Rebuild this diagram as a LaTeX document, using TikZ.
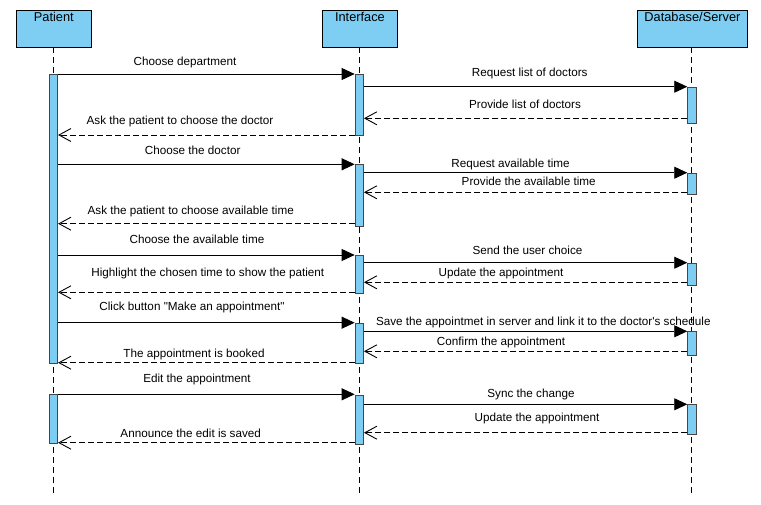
\documentclass[tikz,border=0pt]{standalone}
\usepackage{fontspec}
\setmainfont{Liberation Sans}
\usetikzlibrary{arrows.meta}
\definecolor{lblue}{RGB}{126,206,244}
\definecolor{bargray}{RGB}{70,70,70}
\tikzset{
  actor/.style={draw=black, fill=lblue, line width=0.9pt, minimum width=#1, minimum height=37pt, inner sep=0pt},
  actortext/.style={font=\fontsize{12.8}{15}\selectfont, text=black, inner sep=0pt},
  bar/.style={draw=bargray, fill=lblue, line width=0.9pt, minimum width=8.4pt, inner sep=0pt, anchor=north},
  life/.style={draw=black, line width=0.9pt, dash pattern=on 6pt off 4pt},
  call/.style={draw=black, line width=0.9pt, -{Triangle[length=13pt,width=12pt]}},
  reply/.style={draw=black, line width=0.9pt, dash pattern=on 6pt off 3pt, -{Straight Barb[length=12pt,width=13pt,line width=0.9pt]}},
  lbl/.style={font=\fontsize{11.7}{14}\selectfont, text=black, inner sep=0pt}
}
\begin{document}
\begin{tikzpicture}[x=1pt,y=-1pt]
\useasboundingbox (0,0) rectangle (761,505);
% actors
\node[actor=74.7pt, anchor=north west] (pat) at (16,10) {};
\node[actor=75pt, anchor=north west] (ifc) at (322,10) {};
\node[actor=110.6pt, anchor=north west] (dbs) at (636.7,10) {};
\node[actortext] at (pat.north |- 0,17) {Patient};
\node[actortext] at (ifc.north |- 0,17) {Interface};
\node[actortext] at (dbs.north |- 0,17) {Database/Server};
% lifelines
\coordinate (patend) at (53.4,493);
\coordinate (ifcend) at (359.3,493);
\coordinate (dbsend) at (691.9,493);
\draw[life] (53.4,47) -- (patend);
\draw[life] (359.3,47) -- (ifcend);
\draw[life] (691.9,47) -- (dbsend);
% activation bars
\node[bar, minimum height=289.3pt] (pb1) at (53.4,74) {};
\node[bar, minimum height=49pt] (pb2) at (53.4,394.3) {};
\node[bar, minimum height=61pt] (ib1) at (359.3,74) {};
\node[bar, minimum height=62pt] (ib2) at (359.3,164.3) {};
\node[bar, minimum height=38pt] (ib3) at (359.3,255) {};
\node[bar, minimum height=40.6pt] (ib4) at (359.3,322.7) {};
\node[bar, minimum height=49.3pt] (ib5) at (359.3,394.7) {};
\node[bar, minimum height=36pt] (db1) at (691.9,86.7) {};
\node[bar, minimum height=21.3pt] (db2) at (691.9,172.7) {};
\node[bar, minimum height=22.3pt] (db3) at (691.9,262.7) {};
\node[bar, minimum height=24pt] (db4) at (691.9,331.3) {};
\node[bar, minimum height=29.7pt] (db5) at (691.9,404.3) {};
% messages
\draw[call] (pb1.east |- 0,74) -- (ib1.west |- 0,74);
\node[lbl] at (185,62) {Choose department};
\draw[call] (ib1.east |- 0,86.7) -- (db1.west |- 0,86.7);
\node[lbl] at (529.7,73) {Request list of doctors};
\draw[reply] (db1.west |- 0,118.3) -- (ib1.east |- 0,118.3);
\node[lbl] at (525,104) {Provide list of doctors};
\draw[reply] (ib1.west |- 0,135) -- (pb1.east |- 0,135);
\node[lbl] at (180,121) {Ask the patient to choose the doctor};
\draw[call] (pb1.east |- 0,164.3) -- (ib2.west |- 0,164.3);
\node[lbl] at (192.7,150.7) {Choose the doctor};
\draw[call] (ib2.east |- 0,172.7) -- (db2.west |- 0,172.7);
\node[lbl] at (510.5,164.7) {Request available time};
\draw[reply] (db2.west |- 0,192.3) -- (ib2.east |- 0,192.3);
\node[lbl] at (528.7,181.3) {Provide the available time};
\draw[reply] (ib2.west |- 0,223.7) -- (pb1.east |- 0,223.7);
\node[lbl] at (190.7,211) {Ask the patient to choose available time};
\draw[call] (pb1.east |- 0,255) -- (ib3.west |- 0,255);
\node[lbl] at (197,239.7) {Choose the available time};
\draw[call] (ib3.east |- 0,262.7) -- (db3.west |- 0,262.7);
\node[lbl] at (527.5,250.7) {Send the user choice};
\draw[reply] (db3.west |- 0,282.3) -- (ib3.east |- 0,282.3);
\node[lbl] at (501,273.3) {Update the appointment};
\draw[reply] (ib3.west |- 0,292.3) -- (pb1.east |- 0,292.3);
\node[lbl] at (207.8,273.3) {Highlight the chosen time to show the patient};
\draw[call] (pb1.east |- 0,322.7) -- (ib4.west |- 0,322.7);
\node[lbl] at (192,307.3) {Click button \textquotedbl Make an appointment\textquotedbl};
\draw[call] (ib4.east |- 0,331.3) -- (db4.west |- 0,331.3);
\node[lbl] at (543.3,322.7) {Save the appointmet in server and link it to the doctor\textquotesingle s schedule};
\draw[reply] (db4.west |- 0,351.3) -- (ib4.east |- 0,351.3);
\node[lbl] at (501,342.7) {Confirm the appointment};
\draw[reply] (ib4.west |- 0,362.7) -- (pb1.east |- 0,362.7);
\node[lbl] at (194,354.7) {The appointment is booked};
\draw[call] (pb2.east |- 0,394.3) -- (ib5.west |- 0,394.3);
\node[lbl] at (197,379) {Edit the appointment};
\draw[call] (ib5.east |- 0,404.3) -- (db5.west |- 0,404.3);
\node[lbl] at (531,394) {Sync the change};
\draw[reply] (db5.west |- 0,432.7) -- (ib5.east |- 0,432.7);
\node[lbl] at (537,418.3) {Update the appointment};
\draw[reply] (ib5.west |- 0,442.7) -- (pb2.east |- 0,442.7);
\node[lbl] at (190.7,433.7) {Announce the edit is saved};
\end{tikzpicture}
\end{document}
